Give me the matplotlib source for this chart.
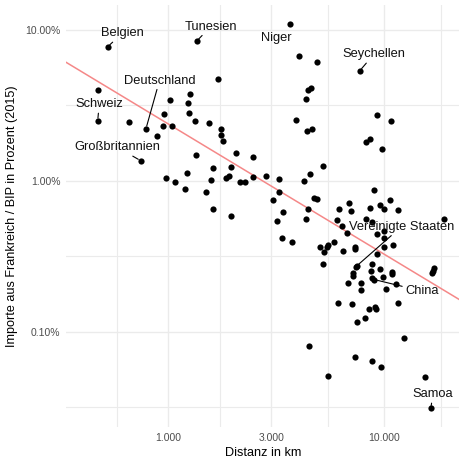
import matplotlib
matplotlib.use("Agg")
import matplotlib.pyplot as plt
import matplotlib.ticker as mticker
import numpy as np

plt.rcParams["font.family"] = ["Liberation Sans", "DejaVu Sans"]

# Labelled countries come first, followed by the remaining countries.
labeled_countries = [
    "Belgien", "Tunesien", "Niger", "Seychellen", "Deutschland",
    "Schweiz", "Großbritannien", "Vereinigte Staaten", "China", "Samoa",
]

distance_km = [
    524, 1351, 3648, 7700, 788, 471, 745, 7372, 8978, 16400,
    474, 658, 887, 942, 955, 1035, 1021, 1260, 1230, 1243,
    1336, 973, 1071, 1195, 1223, 1348, 1543, 1699, 1754, 1754,
    1797, 1610, 1581, 1491, 1614, 1850, 1916, 1951, 1945, 2051,
    2467, 2147, 2270, 2467, 2848, 3244, 3262, 3046, 3396, 3170,
    3350, 3726, 4027, 4881, 4587, 4410, 4340, 3890, 4372, 4626,
    5185, 4515, 4262, 4742, 4870, 4410, 4326, 9270, 10740, 8185,
    8603, 9727, 8988, 10590, 6900, 9522, 6150, 6997, 8613, 9936,
    11610, 6020, 8246, 8798, 6384, 18960, 6741, 9252, 9990, 9915,
    9936, 11010, 9280, 7474, 8790, 9583, 7318, 7278, 6460, 5869,
    5418, 5458, 5258, 5012, 16930, 16750, 16590, 5175, 8723, 7187,
    7140, 9863, 8798, 10910, 10850, 6770, 7800, 7785, 10180, 11330,
    6072, 7070, 8468, 9085, 9154, 8140, 7499, 11600, 12360, 4481,
    7318, 8743, 9623, 5505, 15350,
]

imports_pct = [
    7.75, 8.42, 10.96, 5.37, 2.215, 2.50, 1.36, 0.269, 0.2216, 0.031,
    4.00, 2.44, 1.973, 2.31, 2.77, 2.32, 3.43, 3.76, 3.26, 2.80,
    2.50, 1.049, 0.977, 0.882, 1.132, 1.49, 2.41, 4.73, 2.205, 2.028,
    1.85, 1.21, 1.009, 0.839, 0.655, 1.044, 1.081, 1.24, 0.587, 1.522,
    1.432, 0.977, 0.982, 1.06, 1.071, 1.023, 0.840, 0.749, 0.618, 0.540,
    0.420, 0.393, 6.75, 6.11, 4.14, 3.98, 3.49, 2.53, 2.14, 2.19,
    1.263, 1.115, 0.997, 0.766, 0.757, 0.653, 0.556, 2.73, 2.50, 1.82,
    1.89, 1.618, 0.872, 0.746, 0.716, 0.694, 0.650, 0.633, 0.657, 0.652,
    0.637, 0.548, 0.556, 0.533, 0.505, 0.556, 0.453, 0.446, 0.462, 0.421,
    0.364, 0.375, 0.326, 0.272, 0.279, 0.261, 0.365, 0.352, 0.345, 0.391,
    0.363, 0.375, 0.339, 0.366, 0.264, 0.254, 0.245, 0.280, 0.253, 0.2435,
    0.2337, 0.2312, 0.2284, 0.249, 0.2428, 0.2094, 0.209, 0.1893, 0.1916, 0.2062,
    0.1541, 0.1529, 0.1416, 0.1467, 0.1405, 0.124, 0.1152, 0.156, 0.0907, 0.0809,
    0.0681, 0.0638, 0.0581, 0.0505, 0.0502,
]

# log10(imports %) = fit_intercept + fit_slope * log10(distance)
fit_intercept = 2.969
fit_slope = -0.864

x_breaks = [1000, 3000, 10000]
x_break_labels = ["1.000", "3.000", "10.000"]
y_breaks = [0.1, 1.0, 10.0]
y_break_labels = ["0.10%", "1.00%", "10.00%"]

# label offsets in points (dx, dy) and whether a connector is drawn
label_offsets = {
    "Belgien": (10.5, 9.6, True),
    "Tunesien": (10.1, 10.5, True),
    "Niger": (-9.4, -9.9, False),
    "Seychellen": (10.1, 11.8, True),
    "Deutschland": (9.7, 34.6, True),
    "Schweiz": (1.1, 11.8, True),
    "Großbritannien": (-16.7, 9.6, True),
    "Vereinigte Staaten": (32.8, 28.8, True),
    "China": (34.2, -8.3, True),
    "Samoa": (1.7, 10.1, True),
}

grid_color = "#EBEBEB"
tick_color = "#4D4D4D"

fig = plt.figure(figsize=(4.6, 4.59), dpi=100)
ax = fig.add_axes([66 / 460, 1 - 427 / 459, 394 / 460, 422 / 459])
ax.set_xscale("log")
ax.set_yscale("log")
ax.set_xlim(336, 22410)
ax.set_ylim(0.02333, 14.65)

# minor grid sits halfway between major breaks (in log space)
lx = np.log10(x_breaks)
x_minor = 10 ** np.concatenate([[lx[0] - (lx[1] - lx[0]) / 2], (lx[:-1] + lx[1:]) / 2,
                                [lx[-1] + (lx[-1] - lx[-2]) / 2]])
ly = np.log10(y_breaks)
y_minor = 10 ** np.concatenate([[ly[0] - 0.5], (ly[:-1] + ly[1:]) / 2])

ax.xaxis.set_major_locator(mticker.FixedLocator(x_breaks))
ax.xaxis.set_major_formatter(mticker.FixedFormatter(x_break_labels))
ax.xaxis.set_minor_locator(mticker.FixedLocator(x_minor))
ax.xaxis.set_minor_formatter(mticker.NullFormatter())
ax.yaxis.set_major_locator(mticker.FixedLocator(y_breaks))
ax.yaxis.set_major_formatter(mticker.FixedFormatter(y_break_labels))
ax.yaxis.set_minor_locator(mticker.FixedLocator(y_minor))
ax.yaxis.set_minor_formatter(mticker.NullFormatter())

ax.grid(True, which="major", color=grid_color, linewidth=1.0)
ax.grid(True, which="minor", color=grid_color, linewidth=0.8)
ax.set_axisbelow(True)
ax.tick_params(which="both", length=0, colors=tick_color, labelsize=7.5)
ax.tick_params(axis="x", pad=4)
ax.tick_params(axis="y", pad=4)
for sp in ax.spines.values():
    sp.set_visible(False)

# regression line across the full panel
xs = np.array(ax.get_xlim())
ax.plot(xs, 10 ** (fit_intercept + fit_slope * np.log10(xs)),
        color="#F58888", linewidth=1.1, zorder=2)

ax.scatter(distance_km, imports_pct, s=20, color="black", linewidths=0, zorder=3)

for i, name in enumerate(labeled_countries):
    dx, dy, seg = label_offsets[name]
    arrow = dict(arrowstyle="-", color="black", linewidth=0.8,
                 shrinkA=0, shrinkB=2) if seg else None
    ax.annotate(name, (distance_km[i], imports_pct[i]), xytext=(dx, dy),
                textcoords="offset points", ha="center", va="center",
                fontsize=9.3, color="#111111", arrowprops=arrow, zorder=4)

ax.set_xlabel("Distanz in km", fontsize=9.1, labelpad=3)
ax.set_ylabel("Importe aus Frankreich / BIP in Prozent (2015)", fontsize=9.1, labelpad=5)

fig.savefig("out.png", dpi=100)
